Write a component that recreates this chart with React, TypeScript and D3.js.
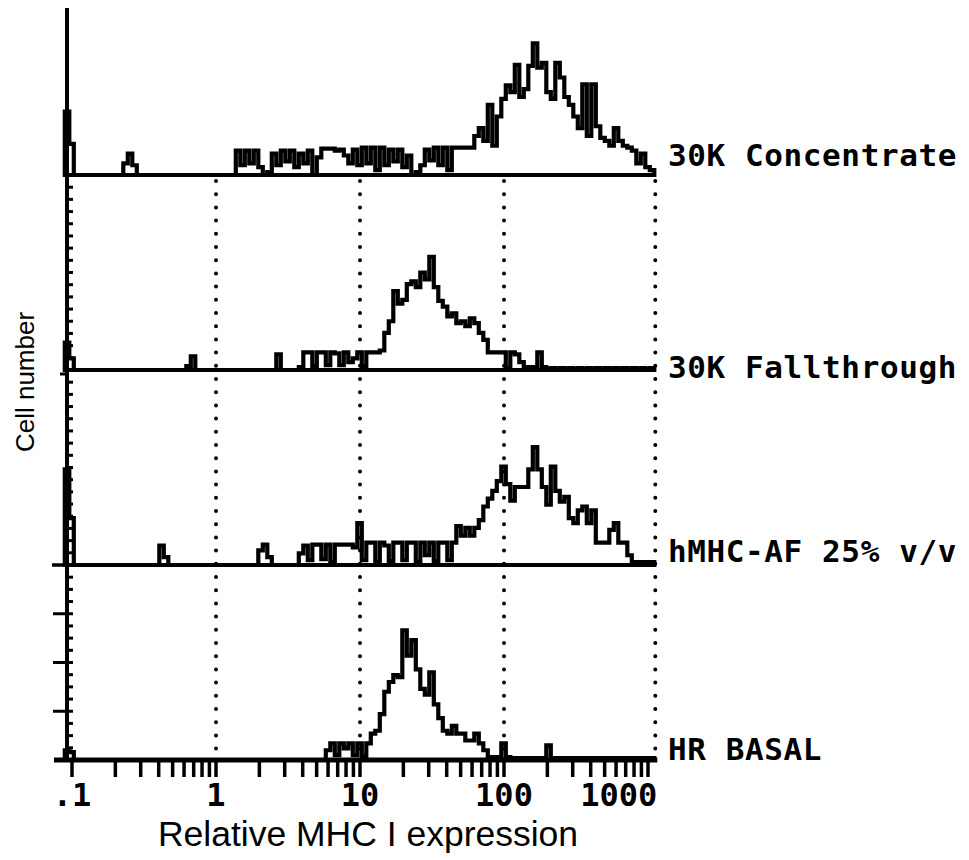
import React from 'react';
import * as d3 from 'd3';

// ---------- DATA ----------
const PANEL_LABELS = ['30K Concentrate', '30K Fallthrough', 'hMHC-AF 25% v/v', 'HR BASAL'];

// Histogram channels: 32 channels per decade, first channel starts at log10 = -1.05
const BIN_START_LOG = -1.05;
const BINS_PER_DECADE = 32;

const CONCENTRATE_COUNTS = [
  65, 32, 0, 0, 0, 0, 0, 0, 0, 0,
  0, 0, 0, 12, 22, 10, 0, 0, 0, 0,
  0, 0, 0, 0, 0, 0, 0, 0, 0, 0,
  0, 0, 0, 0, 0, 0, 0, 0, 25, 10,
  25, 12, 25, 8, 0, 3, 22, 10, 25, 14,
  25, 8, 22, 12, 25, 0, 18, 27, 27, 27,
  25, 26, 20, 12, 26, 10, 28, 12, 28, 5,
  28, 10, 26, 14, 26, 8, 20, 0, 3, 10,
  26, 15, 28, 10, 28, 5, 28, 28, 28, 28,
  28, 40, 48, 35, 72, 30, 60, 78, 92, 85,
  113, 80, 88, 112, 135, 110, 115, 85, 78, 115,
  100, 80, 72, 60, 48, 93, 40, 93, 50, 38,
  35, 30, 48, 35, 30, 28, 25, 12, 22, 8,
  5,
];

const FALLTHROUGH_COUNTS = [
  28, 12, 0, 0, 0, 0, 0, 0, 0, 0,
  0, 0, 0, 0, 0, 0, 0, 0, 0, 0,
  0, 0, 0, 0, 0, 0, 0, 4, 14, 0,
  0, 0, 0, 0, 0, 0, 0, 0, 0, 0,
  0, 0, 0, 0, 0, 0, 0, 16, 0, 0,
  0, 0, 3, 18, 18, 4, 18, 18, 5, 18,
  17, 5, 18, 8, 12, 18, 4, 18, 18, 18,
  20, 38, 50, 81, 68, 72, 88, 91, 85, 100,
  93, 116, 85, 71, 65, 55, 58, 48, 50, 45,
  53, 48, 38, 31, 18, 18, 18, 18, 2, 18,
  16, 8, 3, 3, 3, 18, 3, 1, 2, 1,
  2, 1, 2, 1, 2, 1, 2, 1, 2, 1,
  2, 1, 2, 1, 2, 1, 2, 1, 2, 1,
  2,
];

const HMHC_COUNTS = [
  98, 48, 0, 0, 0, 0, 0, 0, 0, 0,
  0, 0, 0, 0, 0, 0, 0, 0, 0, 0,
  0, 20, 8, 0, 0, 0, 0, 0, 0, 0,
  0, 0, 0, 0, 0, 0, 0, 0, 0, 0,
  0, 0, 0, 15, 21, 8, 0, 0, 0, 0,
  0, 0, 12, 20, 5, 21, 21, 6, 21, 3,
  21, 21, 21, 21, 18, 43, 5, 23, 23, 3,
  23, 20, 4, 23, 23, 5, 23, 23, 3, 23,
  10, 23, 4, 23, 23, 5, 23, 40, 30, 38,
  30, 38, 46, 60, 68, 76, 86, 101, 83, 66,
  80, 80, 80, 98, 121, 98, 80, 62, 101, 76,
  65, 70, 48, 43, 56, 60, 43, 56, 23, 23,
  23, 36, 43, 23, 23, 10, 3, 3, 3, 3,
  3,
];

const BASAL_COUNTS = [
  10, 8, 0, 0, 0, 0, 0, 0, 0, 0,
  0, 0, 0, 0, 0, 0, 0, 0, 0, 0,
  0, 0, 0, 0, 0, 0, 0, 0, 0, 0,
  0, 0, 0, 0, 0, 0, 0, 0, 0, 0,
  0, 0, 0, 0, 0, 0, 0, 0, 0, 0,
  0, 0, 0, 0, 0, 0, 0, 0, 10, 17,
  5, 17, 12, 17, 5, 17, 4, 17, 27, 30,
  47, 70, 80, 87, 85, 133, 107, 123, 93, 73,
  67, 90, 57, 43, 30, 27, 35, 27, 27, 20,
  20, 27, 17, 10, 3, 3, 3, 17, 3, 2,
  2, 2, 2, 2, 2, 2, 2, 15, 2, 2,
  2, 2, 2, 2, 2, 2, 2, 2, 2, 2,
  2, 2, 2, 2, 2, 2, 2, 2, 2, 2,
  2,
];

const PANEL_COUNTS = [CONCENTRATE_COUNTS, FALLTHROUGH_COUNTS, HMHC_COUNTS, BASAL_COUNTS];

const X_TICK_VALUES = [0.1, 1, 10, 100, 1000];
const X_TICK_LABELS = ['.1', '1', '10', '100', '1000'];
const Y_MINOR_STEP = 12.5;
const Y_MAJOR_TICKS = [50, 100, 150];

const X_TITLE = 'Relative MHC I expression';
const Y_TITLE = 'Cell number';

// ---------- LAYOUT ----------
const W = 969;
const H = 860;
const AXIS_X = 67;
const MONO = "'DejaVu Sans Mono', 'Liberation Mono', monospace";
const SANS = "'Liberation Sans', Arial, Helvetica, sans-serif";
const LW = 4.2;

export default function App() {
  const x = d3.scaleLog().domain([0.1, 1000]).range([72, 648]);
  const panelBase = d3.scalePoint<string>().domain(PANEL_LABELS).range([175, 760]);
  const yc = d3.scaleLinear().domain([0, 200]).range([0, 195]);

  const nBins = CONCENTRATE_COUNTS.length;
  const edge = (k: number) => Math.pow(10, BIN_START_LOG + k / BINS_PER_DECADE);
  const xEnd = x(edge(nBins));
  const bottom = panelBase(PANEL_LABELS[3]) as number;
  const top1 = panelBase(PANEL_LABELS[0]) as number;

  const histPath = (counts: number[], base: number) => {
    const pts: [number, number][] = [[edge(0), 0]];
    counts.forEach((v, k) => pts.push([edge(k), v]));
    pts.push([edge(counts.length), counts[counts.length - 1]]);
    pts.push([edge(counts.length), 0]);
    const line = d3
      .line<[number, number]>()
      .x((d) => x(d[0]))
      .y((d) => base - yc(d[1]))
      .curve(d3.curveStepAfter);
    return (line(pts) || '') + 'Z';
  };

  // x ticks: 1..9 x 10^k plus 1000
  const xTicks: number[] = [];
  for (let k = -1; k <= 2; k++) for (let m = 1; m <= 9; m++) xTicks.push(m * Math.pow(10, k));
  xTicks.push(1000);

  const minorTicks = d3.range(Y_MINOR_STEP, 195, Y_MINOR_STEP);
  const labelDy = [-9, 8, -3, 0];

  const dotted = (xx: number, key: string) => (
    <line
      key={key}
      x1={xx}
      x2={xx}
      y1={top1 + 6}
      y2={bottom - 3}
      stroke="#000"
      strokeWidth={4}
      strokeLinecap="round"
      strokeDasharray="0 13.2"
    />
  );

  return (
    <svg
      width={W}
      height={H}
      viewBox={`0 0 ${W} ${H}`}
      style={{ position: 'absolute', left: 0, top: 0, background: '#fff' }}
    >
      <rect x={0} y={0} width={W} height={H} fill="#fff" />

      {/* dotted decade grid lines */}
      {[1, 10, 100].map((v) => dotted(x(v), 'g' + v))}
      {dotted(xEnd + 1, 'gend')}

      {/* histograms */}
      {PANEL_LABELS.map((lab, i) => {
        const base = panelBase(lab) as number;
        return (
          <g key={lab}>
            <path
              d={histPath(PANEL_COUNTS[i], base)}
              fill="none"
              stroke="#000"
              strokeWidth={LW}
              strokeLinejoin="miter"
            />
            <text
              x={668}
              y={base + labelDy[i]}
              fontFamily={MONO}
              fontWeight="bold"
              fontSize={31}
              letterSpacing={0.6}
              fill="#000"
            >
              {lab}
            </text>
          </g>
        );
      })}

      {/* y axis */}
      <line x1={AXIS_X} x2={AXIS_X} y1={8} y2={bottom + 2} stroke="#000" strokeWidth={4} />
      {PANEL_LABELS.slice(1).map((lab) => {
        const base = panelBase(lab) as number;
        return minorTicks.map((t) => (
          <line
            key={lab + t}
            x1={AXIS_X}
            x2={AXIS_X + 6}
            y1={base - yc(t)}
            y2={base - yc(t)}
            stroke="#000"
            strokeWidth={3}
          />
        ));
      })}
      {Y_MAJOR_TICKS.map((t) => (
        <line
          key={'M' + t}
          x1={AXIS_X - 14}
          x2={AXIS_X}
          y1={bottom - yc(t)}
          y2={bottom - yc(t)}
          stroke="#000"
          strokeWidth={3}
        />
      ))}
      <line
        x1={AXIS_X - 7}
        x2={AXIS_X}
        y1={(panelBase(PANEL_LABELS[1]) as number) + 4}
        y2={(panelBase(PANEL_LABELS[1]) as number) + 4}
        stroke="#000"
        strokeWidth={3}
      />
      <line
        x1={AXIS_X - 15}
        x2={AXIS_X}
        y1={panelBase(PANEL_LABELS[2]) as number}
        y2={panelBase(PANEL_LABELS[2]) as number}
        stroke="#000"
        strokeWidth={3.5}
      />

      {/* x axis */}
      <line x1={AXIS_X - 13} x2={xEnd + 3} y1={bottom} y2={bottom} stroke="#000" strokeWidth={5} />
      {xTicks.map((v) => (
        <line key={'t' + v} x1={x(v)} x2={x(v)} y1={bottom} y2={bottom + 17} stroke="#000" strokeWidth={3.5} />
      ))}
      {X_TICK_VALUES.map((v, i) => {
        const last = i === X_TICK_VALUES.length - 1;
        return (
          <text
            key={'l' + v}
            x={last ? xEnd + 3 : x(v)}
            y={806}
            textAnchor={last ? 'end' : 'middle'}
            fontFamily={MONO}
            fontWeight="bold"
            fontSize={32}
            fill="#000"
          >
            {X_TICK_LABELS[i]}
          </text>
        );
      })}

      {/* titles */}
      <text x={368} y={846} textAnchor="middle" fontFamily={SANS} fontSize={35.5} fill="#000">
        {X_TITLE}
      </text>
      <text
        transform={`translate(34,382) rotate(-90)`}
        textAnchor="middle"
        fontFamily={SANS}
        fontSize={26}
        fill="#000"
      >
        {Y_TITLE}
      </text>
    </svg>
  );
}
